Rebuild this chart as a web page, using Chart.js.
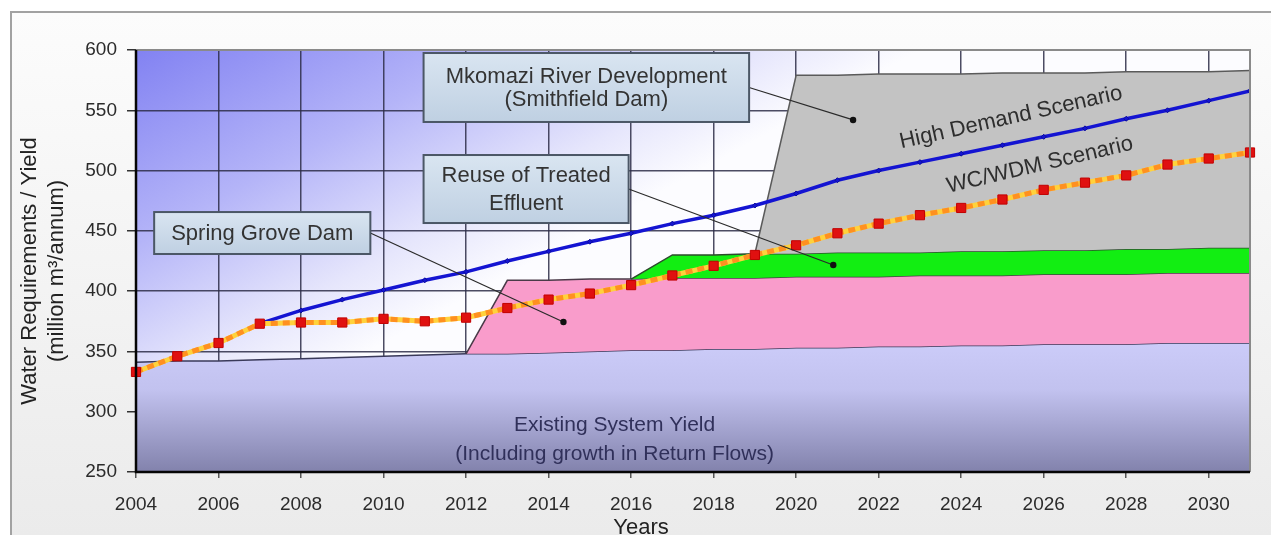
<!DOCTYPE html>
<html>
<head>
<meta charset="utf-8">
<title>Water Requirements / Yield</title>
<script src="https://cdn.jsdelivr.net/npm/chart.js@4.4.1/dist/chart.umd.min.js"></script>
<style>
  html, body { margin: 0; padding: 0; background: #fff; }
  #wrap { width: 1271px; height: 535px; }
</style>
</head>
<body>
<div id="wrap"><canvas id="chart" width="1271" height="535"></canvas></div>
<script>
var years = [2004, 2005, 2006, 2007, 2008, 2009, 2010, 2011, 2012, 2013, 2014, 2015, 2016, 2017,
             2018, 2019, 2020, 2021, 2022, 2023, 2024, 2025, 2026, 2027, 2028, 2029, 2030, 2031];

// supply bands, each stored as the running top of the band (million m3/annum)
var existingYield = [341, 342, 342, 343, 344, 345, 346, 347, 348, 348, 349, 350, 351, 351,
                     352, 352, 353, 353, 354, 354, 355, 355, 356, 356, 356, 357, 357, 357];
var springGroveTop = [null, null, null, null, null, null, null, null, 348, 409, 409, 410, 410, 411,
                      411, 411, 412, 412, 412, 413, 413, 413, 414, 414, 414, 415, 415, 415];
var reuseTop = [null, null, null, null, null, null, null, null, null, null, null, null, 410, 430,
                430, 431, 431, 432, 432, 432, 433, 433, 434, 434, 435, 435, 436, 436];
var mkomaziTop = [null, null, null, null, null, null, null, null, null, null, null, null, null, null,
                  null, 431, 579, 579, 580, 580, 580, 581, 581, 581, 582, 582, 582, 583];

// demand scenarios
var highDemand = [333, 346, 357, 373, 384, 393, 401, 409, 416, 425, 433, 441, 448, 456,
                  463, 471, 481, 492, 500, 507, 514, 521, 528, 535, 543, 550, 558, 566];
var wcWdm = [333, 346, 357, 373, 374, 374, 377, 375, 378, 386, 393, 398, 405, 413,
             421, 430, 438, 448, 456, 463, 469, 476, 484, 490, 496, 505, 510, 515];

var FONT = '"Liberation Sans", Arial, sans-serif';

// callout boxes, placed in data units (years / million m3)
var callouts = [
  { lines: ['Mkomazi River Development', '(Smithfield Dam)'], lineHeight: 23,
    x0: 2010.97, x1: 2018.86, top: 597.5, bottom: 540.3, target: [2021.38, 542] },
  { lines: ['Reuse of Treated', 'Effluent'], lineHeight: 28,
    x0: 2010.97, x1: 2015.94, top: 512.9, bottom: 456.5, target: [2020.9, 421.7] },
  { lines: ['Spring Grove Dam'], lineHeight: 23,
    x0: 2004.44, x1: 2009.68, top: 465.6, bottom: 430.8, target: [2014.36, 374.4] }
];

var curveLabels = [
  { text: 'High Demand Scenario', x: 2025.24, y: 539, angle: -12.6 },
  { text: 'WC/WDM Scenario', x: 2025.94, y: 499.6, angle: -13.2 }
];

var backdrop = {
  id: 'backdrop',
  beforeDraw: function(chart) {
    var ctx = chart.ctx, a = chart.chartArea;
    ctx.save();
    var pg = ctx.createLinearGradient(0, 12, 0, chart.height);
    pg.addColorStop(0, '#fcfcfc');
    pg.addColorStop(1, '#ebebeb');
    ctx.fillStyle = pg;
    ctx.fillRect(11, 12, chart.width, chart.height);
    ctx.strokeStyle = '#a2a2a2';
    ctx.lineWidth = 2;
    ctx.strokeRect(11, 12, chart.width + 20, chart.height + 20);

    // blue wash in the upper left of the plot, fading to white
    var g = ctx.createLinearGradient(a.left, a.top, a.left + 180, a.top + 330);
    g.addColorStop(0, '#8282f2');
    g.addColorStop(0.45, '#b4b4f8');
    g.addColorStop(0.8, '#e6e6fc');
    g.addColorStop(1, '#fcfcff');
    ctx.fillStyle = g;
    ctx.fillRect(a.left, a.top, a.right - a.left, a.bottom - a.top);
    ctx.restore();
  }
};

var overlay = {
  id: 'overlay',
  afterDatasetsDraw: function(chart) {
    var ctx = chart.ctx, a = chart.chartArea;
    var xs = chart.scales.x, ys = chart.scales.y;
    ctx.save();

    // plot frame
    ctx.strokeStyle = '#8a8a8a';
    ctx.lineWidth = 2;
    ctx.beginPath();
    ctx.moveTo(a.left, a.top); ctx.lineTo(a.right, a.top); ctx.lineTo(a.right, a.bottom);
    ctx.stroke();
    ctx.strokeStyle = '#050505';
    ctx.lineWidth = 2.5;
    ctx.beginPath();
    ctx.moveTo(a.left, a.top); ctx.lineTo(a.left, a.bottom); ctx.lineTo(a.right, a.bottom);
    ctx.stroke();

    // callouts with leader lines
    callouts.forEach(function(c) {
      var l = xs.getPixelForValue(c.x0), r = xs.getPixelForValue(c.x1);
      var t = ys.getPixelForValue(c.top), b = ys.getPixelForValue(c.bottom);
      var tx = xs.getPixelForValue(c.target[0]), ty = ys.getPixelForValue(c.target[1]);
      var my = (t + b) / 2;

      ctx.strokeStyle = '#2a2a2a';
      ctx.lineWidth = 1.2;
      ctx.beginPath();
      ctx.moveTo(r, my); ctx.lineTo(tx, ty);
      ctx.stroke();
      ctx.fillStyle = '#111';
      ctx.beginPath();
      ctx.arc(tx, ty, 3.2, 0, Math.PI * 2);
      ctx.fill();

      var bg = ctx.createLinearGradient(0, t, 0, b);
      bg.addColorStop(0, '#d9e5f1');
      bg.addColorStop(1, '#bfd0e2');
      ctx.fillStyle = bg;
      ctx.fillRect(l, t, r - l, b - t);
      ctx.strokeStyle = '#4b5766';
      ctx.lineWidth = 2;
      ctx.strokeRect(l, t, r - l, b - t);

      ctx.fillStyle = '#333';
      ctx.font = '22px ' + FONT;
      ctx.textAlign = 'center';
      ctx.textBaseline = 'middle';
      var y0 = my - (c.lines.length - 1) * c.lineHeight / 2 + 1;
      c.lines.forEach(function(s, i) {
        ctx.fillText(s, (l + r) / 2, y0 + i * c.lineHeight);
      });
    });

    // scenario labels along the demand curves
    curveLabels.forEach(function(c) {
      ctx.save();
      ctx.translate(xs.getPixelForValue(c.x), ys.getPixelForValue(c.y));
      ctx.rotate(c.angle * Math.PI / 180);
      ctx.fillStyle = '#2e2e2e';
      ctx.font = '22px ' + FONT;
      ctx.textAlign = 'center';
      ctx.textBaseline = 'alphabetic';
      ctx.fillText(c.text, 0, 0);
      ctx.restore();
    });

    // existing system yield band label
    ctx.fillStyle = '#30305a';
    ctx.font = '21px ' + FONT;
    ctx.textAlign = 'center';
    ctx.textBaseline = 'middle';
    var cx = xs.getPixelForValue(2015.6);
    ctx.fillText('Existing System Yield', cx, ys.getPixelForValue(289));
    ctx.fillText('(Including growth in Return Flows)', cx, ys.getPixelForValue(265));

    // axis titles
    ctx.fillStyle = '#222';
    ctx.font = '22px ' + FONT;
    ctx.fillText('Years', 641, 528);
    ctx.save();
    ctx.translate(30, (a.top + a.bottom) / 2 + 10);
    ctx.rotate(-Math.PI / 2);
    ctx.fillText('Water Requirements / Yield', 0, 0);
    ctx.fillText('(million m\u00b3/annum)', 0, 27);
    ctx.restore();

    ctx.restore();
  }
};

function yieldFill(context) {
  var chart = context.chart, a = chart.chartArea;
  if (!a) return '#c6c6f2';
  var g = chart.ctx.createLinearGradient(0, chart.scales.y.getPixelForValue(355), 0, a.bottom);
  g.addColorStop(0, '#cbcbf8');
  g.addColorStop(0.35, '#c2c2ef');
  g.addColorStop(1, '#8282ac');
  return g;
}

var gridColor = 'rgba(45, 45, 72, 0.85)';

new Chart(document.getElementById('chart'), {
  type: 'line',
  data: {
    labels: years,
    datasets: [
      { label: 'Existing System Yield', data: existingYield, fill: 'start',
        backgroundColor: yieldFill, borderColor: '#3a3a5a', borderWidth: 1.5,
        pointRadius: 0, order: 10 },
      { label: 'Spring Grove Dam', data: springGroveTop, fill: '-1',
        backgroundColor: '#f99ccb', borderColor: '#4a3a48', borderWidth: 1.5,
        pointRadius: 0, order: 9 },
      { label: 'Reuse of Treated Effluent', data: reuseTop, fill: '-1',
        backgroundColor: '#12ee12', borderColor: '#2d4a2d', borderWidth: 1.5,
        pointRadius: 0, order: 8 },
      { label: 'Mkomazi River Development', data: mkomaziTop, fill: '-1',
        backgroundColor: '#c3c3c3', borderColor: '#5a5a5a', borderWidth: 1.5,
        pointRadius: 0, order: 7 },
      { label: 'High Demand Scenario', data: highDemand, fill: false,
        borderColor: '#1414d2', borderWidth: 3.5, pointStyle: 'rectRot', pointRadius: 2.5,
        pointBackgroundColor: '#1414d2', pointBorderColor: '#0c0c9a', pointBorderWidth: 1,
        order: 2 },
      { label: 'WC/WDM Scenario', data: wcWdm, fill: false,
        borderColor: '#ffd23c', borderWidth: 5, pointRadius: 0, order: 1 },
      { label: 'WC/WDM Scenario markers', data: wcWdm, fill: false, clip: 8,
        borderColor: '#ff9020', borderWidth: 5, borderDash: [7, 5],
        pointStyle: 'rect', pointRadius: 6.5, pointBackgroundColor: '#e01010',
        pointBorderColor: '#c20000', pointBorderWidth: 1, order: 0 }
    ]
  },
  options: {
    responsive: false,
    animation: false,
    devicePixelRatio: 1,
    layout: { padding: { left: 0, right: 21, top: 50, bottom: 0 } },
    plugins: { legend: { display: false }, tooltip: { enabled: false } },
    elements: { line: { tension: 0 } },
    scales: {
      x: {
        type: 'linear', min: 2004, max: 2031,
        ticks: { stepSize: 2, includeBounds: false, maxRotation: 0, padding: 15,
                 color: '#2b2b2b', font: { family: FONT, size: 19 },
                 callback: function(v) { return String(v); } },
        grid: { color: gridColor, lineWidth: 1.5, tickLength: 6, tickColor: '#555' },
        border: { display: false },
        afterFit: function(scale) { scale.height = 63; }
      },
      y: {
        min: 250, max: 600,
        ticks: { stepSize: 50, padding: 10, color: '#2b2b2b', font: { family: FONT, size: 19 } },
        grid: { color: gridColor, lineWidth: 1.5, tickLength: 9, tickColor: '#333' },
        border: { display: false },
        afterFit: function(scale) { scale.width = 136; }
      }
    }
  },
  plugins: [backdrop, overlay]
});
</script>
</body>
</html>
